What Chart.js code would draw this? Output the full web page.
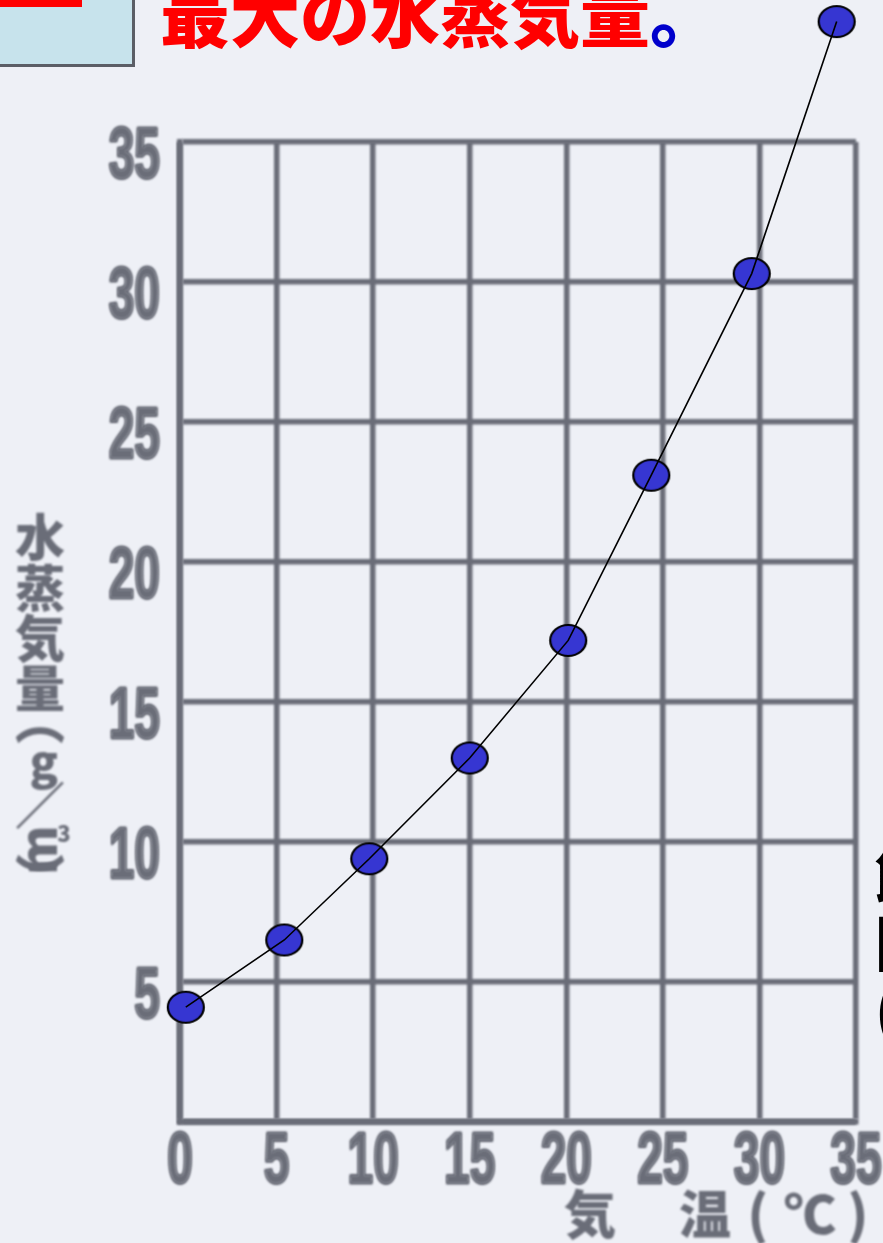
<!DOCTYPE html>
<html lang="ja">
<head>
<meta charset="utf-8">
<title>最大の水蒸気量</title>
<script src="https://cdn.jsdelivr.net/npm/chart.js@4.4.1/dist/chart.umd.min.js"></script>
<style>
  html, body { margin: 0; padding: 0; background: #eef0f6; }
  #wrap { position: relative; width: 883px; height: 1243px; overflow: hidden; background: #eef0f6; }
  #chart { position: absolute; left: 0; top: 0; }
  .tag { position: absolute; left: 0; top: 0; width: 132px; height: 64px; background: #c7e3ec;
         border-right: 3px solid #5b5e66; border-bottom: 3px solid #5b5e66; }
  .tag-bar { position: absolute; left: 0; top: 0; width: 82px; height: 7px; background: #ff0000; }
  .headline { position: absolute; left: 160px; top: -23px; font-family: "Noto Sans CJK JP", sans-serif;
              font-weight: 900; font-size: 70px; line-height: 70px; color: #ff0000; white-space: nowrap; }
  .headline .stop { color: #0000cc; }
  .side { position: absolute; left: 875px; top: 838px; font-family: "Noto Sans CJK JP", sans-serif;
          font-weight: 900; font-size: 60px; line-height: 68px; color: #000; white-space: nowrap; }
</style>
</head>
<body>
<div id="wrap">
  <canvas id="chart" width="883" height="1243"></canvas>
  <div class="tag"><div class="tag-bar"></div></div>
  <div class="headline">最大の水蒸気量<span class="stop">。</span></div>
  <div class="side">飽和水蒸気量の<br>同じ気温での<br>(g/㎥)</div>
</div>
<script>
// Saturation water vapour amount against air temperature
const temperature = [0.3, 5.4, 9.8, 15.0, 20.1, 24.4, 29.6, 34.0];   // 気温 (℃)
const vapor       = [4.1, 6.5, 9.4, 13.0, 17.2, 23.1, 30.3, 39.3];   // 水蒸気量 (g/㎥)

// Axis ticks and their labels
const temperatureTicks  = [0, 5, 10, 15, 20, 25, 30, 35];
const temperatureLabels = ['0', '5', '10', '15', '20', '25', '30', '35'];
const vaporTicks        = [0, 5, 10, 15, 20, 25, 30, 35];
const vaporLabels       = ['', '5', '10', '15', '20', '25', '30', '35'];

// Axis titles
const temperatureTitle = ['気', '温', '(', '℃', ')'];
const vaporTitle       = ['水', '蒸', '気', '量', '︵', 'g', '／', 'm', '︶'];

const INK = '#6a6d78';
const DIGIT_FONT = 'bold 72px "Liberation Sans", Arial, sans-serif';
const CJK_FONT = '"Noto Sans CJK JP", sans-serif';

const points = temperature.map((t, i) => ({ x: t, y: vapor[i] }));

// Blue oval marker with a black rim
function ovalMarker(w, h) {
  const c = document.createElement('canvas');
  c.width = w + 4; c.height = h + 4;
  const g = c.getContext('2d');
  g.beginPath();
  g.ellipse(c.width / 2, c.height / 2, w / 2, h / 2, 0, 0, Math.PI * 2);
  g.fillStyle = '#3636d2';
  g.fill();
  g.lineWidth = 2.2;
  g.strokeStyle = '#000';
  g.stroke();
  return c;
}
const OVAL = ovalMarker(36, 31);

// Tall, narrow, heavy digits as printed on the scale
function narrowText(ctx, text, x, baseline, align) {
  ctx.save();
  ctx.translate(x, baseline);
  ctx.scale(0.64, 1);
  ctx.textAlign = align;
  ctx.textBaseline = 'alphabetic';
  ctx.lineJoin = 'round';
  ctx.lineWidth = 3;
  ctx.strokeStyle = INK;
  ctx.strokeText(text, 0, 0);
  ctx.fillText(text, 0, 0);
  ctx.restore();
}

// Printed axes: soft grid, narrow tick digits and titles, then the oval markers
const printedAxes = {
  id: 'printedAxes',
  beforeDraw(chart) {
    chart.ctx.save();
    chart.ctx.filter = 'blur(0.9px)';
  },
  beforeDatasetsDraw(chart) {
    const ctx = chart.ctx;
    const xs = chart.scales.x, ys = chart.scales.y;
    ctx.fillStyle = INK;

    // tick labels from the scales
    ctx.font = DIGIT_FONT;
    temperatureTicks.forEach((v, i) => {
      narrowText(ctx, temperatureLabels[i], xs.getPixelForValue(v), 1183, 'center');
    });
    vaporTicks.forEach((v, i) => {
      narrowText(ctx, vaporLabels[i], 160, ys.getPixelForValue(v) + 36, 'right');
    });

    // x title along the bottom right
    ctx.textAlign = 'center';
    ctx.textBaseline = 'middle';
    const xSlots = [590, 705, 758, 810, 858];
    temperatureTitle.forEach((ch, i) => {
      ctx.font = '900 52px ' + CJK_FONT;
      ctx.fillText(ch, xSlots[i], 1214);
    });

    // y title written top to bottom
    const ySlots = [537, 588, 638, 688, 720, 762, 805, 850, 878];
    vaporTitle.forEach((ch, i) => {
      const y = ySlots[i];
      if (ch === 'm') {
        ctx.save();
        ctx.translate(38, y);
        ctx.rotate(-Math.PI / 2);
        ctx.font = '900 50px ' + CJK_FONT;
        ctx.fillText(ch, 0, 0);
        ctx.restore();
        ctx.font = '900 22px ' + CJK_FONT;
        ctx.fillText('3', 64, y - 16);
      } else {
        ctx.font = (ch === 'g') ? '900 46px ' + CJK_FONT : '900 50px ' + CJK_FONT;
        ctx.fillText(ch, ch === 'g' ? 44 : 40, y);
      }
    });
    ctx.restore();

    // oval markers at the dataset's own point positions, under the line
    chart.getDatasetMeta(0).data.forEach(pt => {
      ctx.drawImage(OVAL, pt.x - OVAL.width / 2, pt.y - OVAL.height / 2);
    });
  }
};

new Chart(document.getElementById('chart'), {
  type: 'scatter',
  data: {
    datasets: [{
      label: '水蒸気量',
      data: points,
      showLine: true,
      borderColor: '#000',
      borderWidth: 1.6,
      tension: 0,
      pointRadius: 0,
      pointHoverRadius: 0,
      clip: false
    }]
  },
  plugins: [printedAxes],
  options: {
    responsive: false,
    animation: false,
    events: [],
    layout: { padding: { top: 142, right: 27, left: 0, bottom: 0 } },
    plugins: { legend: { display: false }, tooltip: { enabled: false } },
    scales: {
      x: {
        type: 'linear',
        min: 0, max: 35,
        afterFit(scale) { scale.height = 121; scale.paddingLeft = 0; scale.paddingRight = 0; },
        afterBuildTicks(scale) { scale.ticks = temperatureTicks.map(v => ({ value: v })); },
        grid: { color: INK, lineWidth: 5.5, drawTicks: false },
        border: { color: INK, width: 5.5 },
        ticks: { display: false, autoSkip: false, maxRotation: 0 }
      },
      y: {
        type: 'linear',
        min: 0, max: 35,
        afterFit(scale) { scale.width = 180; scale.paddingTop = 0; scale.paddingBottom = 0; },
        afterBuildTicks(scale) { scale.ticks = vaporTicks.map(v => ({ value: v })); },
        grid: { color: INK, lineWidth: 5.5, drawTicks: false },
        border: { color: INK, width: 5.5 },
        ticks: { display: false, autoSkip: false }
      }
    }
  }
});
</script>
</body>
</html>
